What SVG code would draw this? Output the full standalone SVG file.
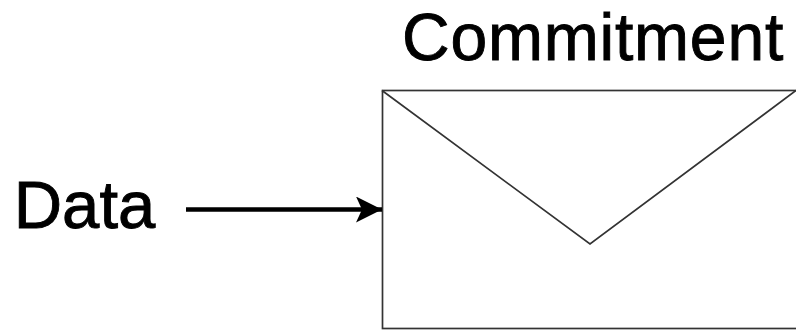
<svg xmlns="http://www.w3.org/2000/svg" width="796" height="331" viewBox="0 0 796 331">
<style>
text{font-family:"Liberation Sans",Arial,sans-serif;fill:#000;stroke:#000;stroke-width:.9;text-anchor:middle}
.c{font-size:66px;letter-spacing:.8px}
.d{font-size:67px}
.e{fill:none;stroke:#333;stroke-width:1.7}
</style>
<defs><marker id="a" markerUnits="userSpaceOnUse" markerWidth="28" markerHeight="28" refX="26" refY="13" orient="auto"><path d="M0 0L26 13L0 26L6 13Z" fill="#000"/></marker></defs>
<rect width="796" height="331" fill="#fff"/>
<g id="commitment-label"><text class="c" x="593" y="60">Commitment</text></g>
<g id="data-label"><text class="d" x="84.500" y="228">Data</text></g>
<g id="envelope"><rect class="e" x="382.500" y="90.500" width="415" height="238"/><path class="e" d="M382 90.500L590 244L796 90.500"/></g>
<g id="connectors"><line x1="186" y1="209.500" x2="382" y2="209.500" stroke="#000" stroke-width="4.500" marker-end="url(#a)"/></g>
</svg>
